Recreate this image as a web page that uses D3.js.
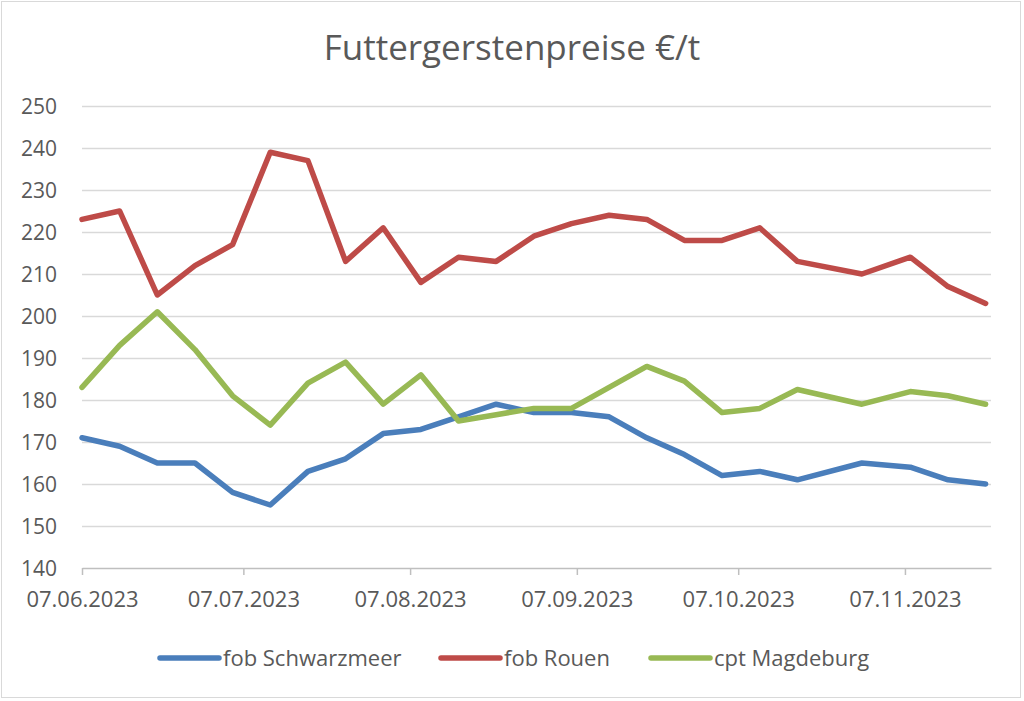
<!DOCTYPE html>
<html>
<head>
<meta charset="utf-8">
<script src="https://cdn.jsdelivr.net/npm/d3@7"></script>
<style>
  html, body { margin: 0; padding: 0; background: #fff; }
  svg { display: block; font-family: "Open Sans", sans-serif; }
</style>
</head>
<body>
<svg id="chart" width="1024" height="701"></svg>
<script>
const title = "Futtergerstenpreise €/t";
const dates = ["07.06.2023","14.06.2023","21.06.2023","28.06.2023","05.07.2023","12.07.2023","19.07.2023","26.07.2023",
  "02.08.2023","09.08.2023","16.08.2023","23.08.2023","30.08.2023","06.09.2023","13.09.2023","20.09.2023",
  "27.09.2023","04.10.2023","11.10.2023","18.10.2023","30.10.2023","08.11.2023","15.11.2023","22.11.2023"];
const seriesNames = ["fob Schwarzmeer", "fob Rouen", "cpt Magdeburg"];
const schwarzmeer = [171,169,165,165,158,155,163,166,172,173,176,179,177,177,176,171,167,162,163,161,165,164,161,160];
const rouen       = [223,225,205,212,217,239,237,213,221,208,214,213,219,222,224,223,218,218,221,213,210,214,207,203];
const magdeburg   = [183,193,201,192,181,174,184,189,179,186,175,176.5,178,178,183,188,184.5,177,178,182.5,179,182,181,179];
const yTicks = [140,150,160,170,180,190,200,210,220,230,240,250];
const xTickLabels = ["07.06.2023","07.07.2023","07.08.2023","07.09.2023","07.10.2023","07.11.2023"];
const colors = ["#4a7ebb", "#be4b48", "#98b954"];

const parse = d3.timeParse("%d.%m.%Y");
const fmt = d3.timeFormat("%d.%m.%Y");
const svg = d3.select("#chart");

// chart border
svg.append("rect").attr("x", 1.5).attr("y", 1.5).attr("width", 1019).attr("height", 696)
  .attr("fill", "#fff").attr("stroke", "#d9d9d9").attr("stroke-width", 1);

const x = d3.scaleTime()
  .domain([parse("07.06.2023"), parse("23.11.2023")])
  .range([82, 991]);
const y = d3.scaleLinear().domain([140, 250]).range([568, 106]);

// title
svg.append("text").attr("x", 512).attr("y", 60).attr("text-anchor", "middle")
  .attr("fill", "#595959").attr("font-size", 35).text(title);

// gridlines via y axis
const yAxis = svg.append("g").attr("transform", "translate(82,0)")
  .call(d3.axisLeft(y).tickValues(yTicks).tickSize(-(991 - 82)).tickPadding(25).tickFormat(d3.format("d")));
yAxis.select(".domain").remove();
yAxis.selectAll(".tick line").attr("stroke", "#d9d9d9").attr("stroke-width", 1.5)
  .attr("opacity", d => d === 140 ? 0 : 1);
yAxis.selectAll(".tick text").attr("fill", "#595959").attr("font-size", 21)
  .attr("font-family", "Open Sans").attr("dy", "0.35em");

// x axis
const xAxis = svg.append("g").attr("transform", "translate(0,568)")
  .call(d3.axisBottom(x).tickValues(xTickLabels.map(parse)).tickSize(7).tickPadding(16).tickFormat(fmt).tickSizeOuter(0));
xAxis.select(".domain").attr("stroke", "#bfbfbf").attr("stroke-width", 1.5);
xAxis.selectAll(".tick line").attr("stroke", "#bfbfbf").attr("stroke-width", 1.5);
xAxis.selectAll(".tick text").attr("fill", "#595959").attr("font-size", 22).attr("font-family", "Open Sans");

// lines
const line = d3.line().x((d, i) => x(parse(dates[i]))).y(d => y(d));
[schwarzmeer, rouen, magdeburg].forEach((s, k) => {
  svg.append("path").datum(s).attr("d", line).attr("fill", "none")
    .attr("stroke", colors[k]).attr("stroke-width", 5.5)
    .attr("stroke-linejoin", "round").attr("stroke-linecap", "round");
});

// legend
const legendX = [160, 441, 651];
const lg = svg.append("g");
seriesNames.forEach((n, k) => {
  lg.append("line").attr("x1", legendX[k]).attr("x2", legendX[k] + 59)
    .attr("y1", 658).attr("y2", 658).attr("stroke", colors[k]).attr("stroke-width", 5.5)
    .attr("stroke-linecap", "round");
  lg.append("text").attr("x", legendX[k] + 63).attr("y", 658).attr("dy", "0.35em")
    .attr("fill", "#595959").attr("font-size", 22).text(n);
});
</script>
</body>
</html>
